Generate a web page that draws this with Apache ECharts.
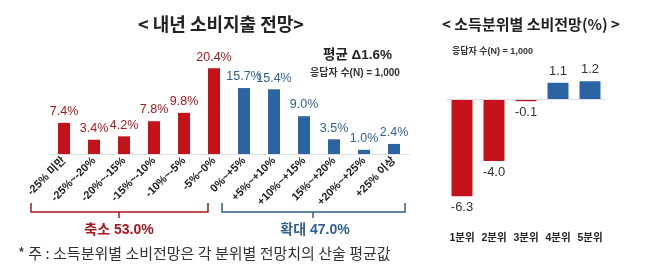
<!DOCTYPE html>
<html><head><meta charset="utf-8">
<script src="https://cdn.jsdelivr.net/npm/echarts@6/dist/echarts.min.js"></script>
<style>html,body{margin:0;padding:0;background:#fff}#c{width:658px;height:279px}</style>
</head><body><div id="c"></div>
<script>
var spendCategories = ['-25% 미만','-25%~-20%','-20%~-15%','-15%~-10%','-10%~-5%','-5%~0%','0%~+5%','+5%~+10%','+10%~+15%','15%~+20%','+20%~+25%','+25% 이상'];
var spendValues = [7.4, 3.4, 4.2, 7.8, 9.8, 20.4, 15.7, 15.4, 9.0, 3.5, 1.0, 2.4];
var quintileCategories = ['1분위','2분위','3분위','4분위','5분위'];
var quintileValues = [-6.3, -4.0, -0.1, 1.1, 1.2];

var RED = '#c4121a', BLUE = '#2c63a3', RED_T = '#a8171d', BLUE_T = '#2f5f93';
var LAT = "'Liberation Sans','Noto Sans CJK KR',sans-serif";
var KR = "'Noto Sans CJK KR',sans-serif";

var chart = echarts.init(document.getElementById('c'), null, {renderer:'canvas'});
chart.setOption({
  animation:false,
  backgroundColor:'#fff',
  title:[
    {text:'< 내년 소비지출 전망>', left:216, top:10, textAlign:'center',
     textStyle:{fontFamily:KR, fontSize:18, fontWeight:'bold', color:'#222'}},
    {text:'< 소득분위별 소비전망(%) >', left:526, top:12, textAlign:'center',
     textStyle:{fontFamily:KR, fontSize:15, fontWeight:'bold', color:'#222'}}
  ],
  grid:[
    {left:49, right:249, top:49, bottom:125},
    {left:446, right:52, top:69, bottom:72}
  ],
  xAxis:[
    {gridIndex:0, type:'category', data:spendCategories,
     axisLine:{lineStyle:{color:'#dddddd'}}, axisTick:{show:false},
     axisLabel:{interval:0, rotate:45, margin:5, fontFamily:LAT, fontSize:11, fontWeight:'bold', color:'#222'}},
    {gridIndex:1, type:'category', data:quintileCategories,
     axisLine:{show:false}, axisTick:{show:false},
     axisLabel:{interval:0, margin:26, fontFamily:LAT, fontSize:10.5, fontWeight:'bold', color:'#222'}}
  ],
  yAxis:[
    {gridIndex:0, type:'value', min:0, max:25, show:false},
    {gridIndex:1, type:'value', min:-7, max:2, show:false}
  ],
  series:[
    {type:'bar', xAxisIndex:0, yAxisIndex:0, data:spendValues, barWidth:12,
     itemStyle:{color:function(p){return p.dataIndex<6?RED:BLUE;}},
     label:{show:true, position:'top', distance:5,
       formatter:function(p){return (p.dataIndex<6?'{r|':'{b|')+p.value.toFixed(1)+'%}';},
       rich:{r:{color:RED_T, fontFamily:LAT, fontSize:12.5}, b:{color:BLUE_T, fontFamily:LAT, fontSize:12.5}}}},
    {type:'bar', xAxisIndex:1, yAxisIndex:1, barWidth:21,
     data:quintileValues.map(function(v){return {value:v, label:{position:v<0?'bottom':'top'}};}),
     itemStyle:{color:function(p){return p.value<0?RED:BLUE;}},
     label:{show:true, distance:5, fontFamily:LAT, fontSize:13, color:'#333',
       formatter:function(p){return p.value.toFixed(1);}},
     markLine:{silent:true, symbol:'none', label:{show:false},
       lineStyle:{color:'#dddddd', type:'solid', width:1}, data:[{yAxis:0}]}}
  ],
  graphic:[
    {type:'text', left:323, top:49, style:{text:'평균 Δ1.6%', font:'bold 13.5px '+LAT, fill:'#222'}},
    {type:'text', left:310, top:68, style:{text:'응답자 수(N) = 1,000', font:'bold 10px '+LAT, fill:'#333'}},
    {type:'text', left:452, top:47, style:{text:'응답자 수(N) = 1,000', font:'bold 9px '+LAT, fill:'#333'}},
    {type:'polyline', shape:{points:[[31,203],[31,212],[208,212],[208,203]]}, style:{stroke:RED_T, lineWidth:1.5, fill:null}},
    {type:'line', shape:{x1:119,y1:212,x2:119,y2:218}, style:{stroke:RED_T, lineWidth:1.5}},
    {type:'polyline', shape:{points:[[222,203],[222,212],[405,212],[405,203]]}, style:{stroke:BLUE_T, lineWidth:1.5, fill:null}},
    {type:'line', shape:{x1:313,y1:212,x2:313,y2:218}, style:{stroke:BLUE_T, lineWidth:1.5}},
    {type:'text', x:119, y:230, style:{text:'축소 53.0%', font:'bold 14px '+LAT, fill:RED_T, align:'center', verticalAlign:'middle'}},
    {type:'text', x:315, y:230, style:{text:'확대 47.0%', font:'bold 14px '+LAT, fill:BLUE_T, align:'center', verticalAlign:'middle'}},
    {type:'text', x:18, y:253, style:{text:'* 주 : 소득분위별 소비전망은 각 분위별 전망치의 산술 평균값', font:'15px '+KR, fill:'#333', verticalAlign:'middle'}}
  ]
});
</script>
</body></html>
